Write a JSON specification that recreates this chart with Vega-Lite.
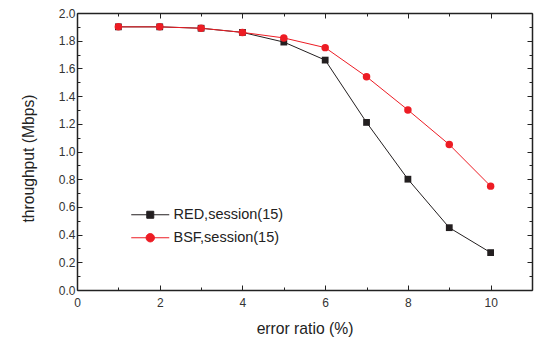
{
  "$schema": "https://vega.github.io/schema/vega-lite/v6.json",
  "width": 455,
  "height": 277,
  "autosize": {"type": "none"},
  "padding": {"left": 77, "top": 13, "right": 2, "bottom": 48},
  "background": "white",
  "config": {
    "view": {"stroke": null},
    "font": "Liberation Sans",
    "axis": {
      "grid": false,
      "domainColor": "#222222",
      "domainWidth": 1.5,
      "tickColor": "#222222",
      "tickWidth": 1,
      "labelFont": "Liberation Sans",
      "labelFontSize": 12,
      "labelColor": "#333333",
      "titleFont": "Liberation Sans",
      "titleFontWeight": "normal",
      "titleColor": "#222222",
      "labelFlush": false,
      "labelOverlap": false
    }
  },
  "data": {
    "values": [
      {"ratio": 1, "throughput": 1.90, "series": "RED,session(15)"},
      {"ratio": 2, "throughput": 1.90, "series": "RED,session(15)"},
      {"ratio": 3, "throughput": 1.89, "series": "RED,session(15)"},
      {"ratio": 4, "throughput": 1.86, "series": "RED,session(15)"},
      {"ratio": 5, "throughput": 1.79, "series": "RED,session(15)"},
      {"ratio": 6, "throughput": 1.66, "series": "RED,session(15)"},
      {"ratio": 7, "throughput": 1.21, "series": "RED,session(15)"},
      {"ratio": 8, "throughput": 0.80, "series": "RED,session(15)"},
      {"ratio": 9, "throughput": 0.45, "series": "RED,session(15)"},
      {"ratio": 10, "throughput": 0.27, "series": "RED,session(15)"},
      {"ratio": 1, "throughput": 1.90, "series": "BSF,session(15)"},
      {"ratio": 2, "throughput": 1.90, "series": "BSF,session(15)"},
      {"ratio": 3, "throughput": 1.89, "series": "BSF,session(15)"},
      {"ratio": 4, "throughput": 1.86, "series": "BSF,session(15)"},
      {"ratio": 5, "throughput": 1.82, "series": "BSF,session(15)"},
      {"ratio": 6, "throughput": 1.75, "series": "BSF,session(15)"},
      {"ratio": 7, "throughput": 1.54, "series": "BSF,session(15)"},
      {"ratio": 8, "throughput": 1.30, "series": "BSF,session(15)"},
      {"ratio": 9, "throughput": 1.05, "series": "BSF,session(15)"},
      {"ratio": 10, "throughput": 0.75, "series": "BSF,session(15)"}
    ]
  },
  "layer": [
    {
      "mark": {"type": "line", "strokeWidth": 1},
      "encoding": {
        "x": {
          "field": "ratio", "type": "quantitative",
          "scale": {"domain": [0, 11], "nice": false},
          "axis": {
            "orient": "bottom",
            "values": [0, 2, 4, 6, 8, 10],
            "format": "d",
            "tickSize": -5,
            "labelPadding": 12,
            "title": "error ratio (%)",
            "titleFontSize": 15.7,
            "titlePadding": 13
          }
        },
        "y": {
          "field": "throughput", "type": "quantitative",
          "scale": {"domain": [0, 2], "nice": false},
          "axis": {
            "orient": "left",
            "values": [0, 0.2, 0.4, 0.6, 0.8, 1.0, 1.2, 1.4, 1.6, 1.8, 2.0],
            "format": ".1f",
            "tickSize": -5,
            "labelPadding": 7,
            "title": "throughput (Mbps)",
            "titleFontSize": 15.7,
            "titlePadding": 22,
            "titleY": 145
          }
        },
        "color": {
          "field": "series", "type": "nominal",
          "scale": {"domain": ["RED,session(15)", "BSF,session(15)"], "range": ["#231f20", "#ed1c24"]},
          "legend": {
            "title": null,
            "orient": "none",
            "legendX": 66,
            "legendY": 194.5,
            "padding": 0,
            "symbolSize": 100,
            "symbolStrokeWidth": 1,
            "labelOffset": 16,
            "labelFontSize": 14.5,
            "labelFont": "Liberation Sans",
            "labelColor": "#222222",
            "rowPadding": 8,
            "encode": {
              "symbols": {
                "update": {
                  "shape": {"signal": "datum.value === 'RED,session(15)' ? 'M-3.8,0H3.8M-0.7,-0.7H0.7V0.7H-0.7Z' : 'M-3.8,0H3.8M0.84,0A0.84,0.84,0,1,1,-0.84,0A0.84,0.84,0,1,1,0.84,0Z'"},
                  "fill": {"signal": "datum.value === 'RED,session(15)' ? '#231f20' : '#ed1c24'"},
                  "stroke": {"signal": "datum.value === 'RED,session(15)' ? '#231f20' : '#ed1c24'"},
                  "strokeWidth": {"value": 1},
                  "opacity": {"value": 1}
                }
              }
            }
          }
        }
      }
    },
    {
      "transform": [{"filter": "datum.series === 'RED,session(15)'"}],
      "mark": {"type": "point", "shape": "square", "filled": true, "opacity": 1, "size": 46},
      "encoding": {
        "x": {
          "field": "ratio", "type": "quantitative",
          "axis": {
            "orient": "top",
            "values": [0, 2, 4, 6, 8, 10],
            "labels": false,
            "title": null,
            "tickSize": -5
          }
        },
        "y": {
          "field": "throughput", "type": "quantitative",
          "axis": {
            "orient": "right",
            "values": [0, 0.2, 0.4, 0.6, 0.8, 1.0, 1.2, 1.4, 1.6, 1.8, 2.0],
            "labels": false,
            "title": null,
            "tickSize": -5
          }
        },
        "color": {"field": "series", "type": "nominal"}
      }
    },
    {
      "transform": [{"filter": "datum.series === 'BSF,session(15)'"}],
      "mark": {"type": "point", "shape": "circle", "filled": true, "opacity": 1, "size": 56},
      "encoding": {
        "x": {
          "field": "ratio", "type": "quantitative",
          "axis": {
            "orient": "bottom",
            "values": [1, 3, 5, 7, 9, 11],
            "labels": false,
            "title": null,
            "domain": false,
            "tickSize": -3
          }
        },
        "y": {
          "field": "throughput", "type": "quantitative",
          "axis": {
            "orient": "left",
            "values": [0.1, 0.3, 0.5, 0.7, 0.9, 1.1, 1.3, 1.5, 1.7, 1.9],
            "labels": false,
            "title": null,
            "domain": false,
            "tickSize": -3
          }
        },
        "color": {"field": "series", "type": "nominal"}
      }
    },
    {
      "mark": {"type": "line", "strokeWidth": 1, "opacity": 0},
      "encoding": {
        "x": {
          "field": "ratio", "type": "quantitative",
          "axis": {
            "orient": "top",
            "values": [1, 3, 5, 7, 9, 11],
            "labels": false,
            "title": null,
            "domain": false,
            "tickSize": -3
          }
        },
        "y": {
          "field": "throughput", "type": "quantitative",
          "axis": {
            "orient": "right",
            "values": [0.1, 0.3, 0.5, 0.7, 0.9, 1.1, 1.3, 1.5, 1.7, 1.9],
            "labels": false,
            "title": null,
            "domain": false,
            "tickSize": -3
          }
        },
        "detail": {"field": "series", "type": "nominal"}
      }
    }
  ],
  "resolve": {"axis": {"x": "independent", "y": "independent"}}
}
